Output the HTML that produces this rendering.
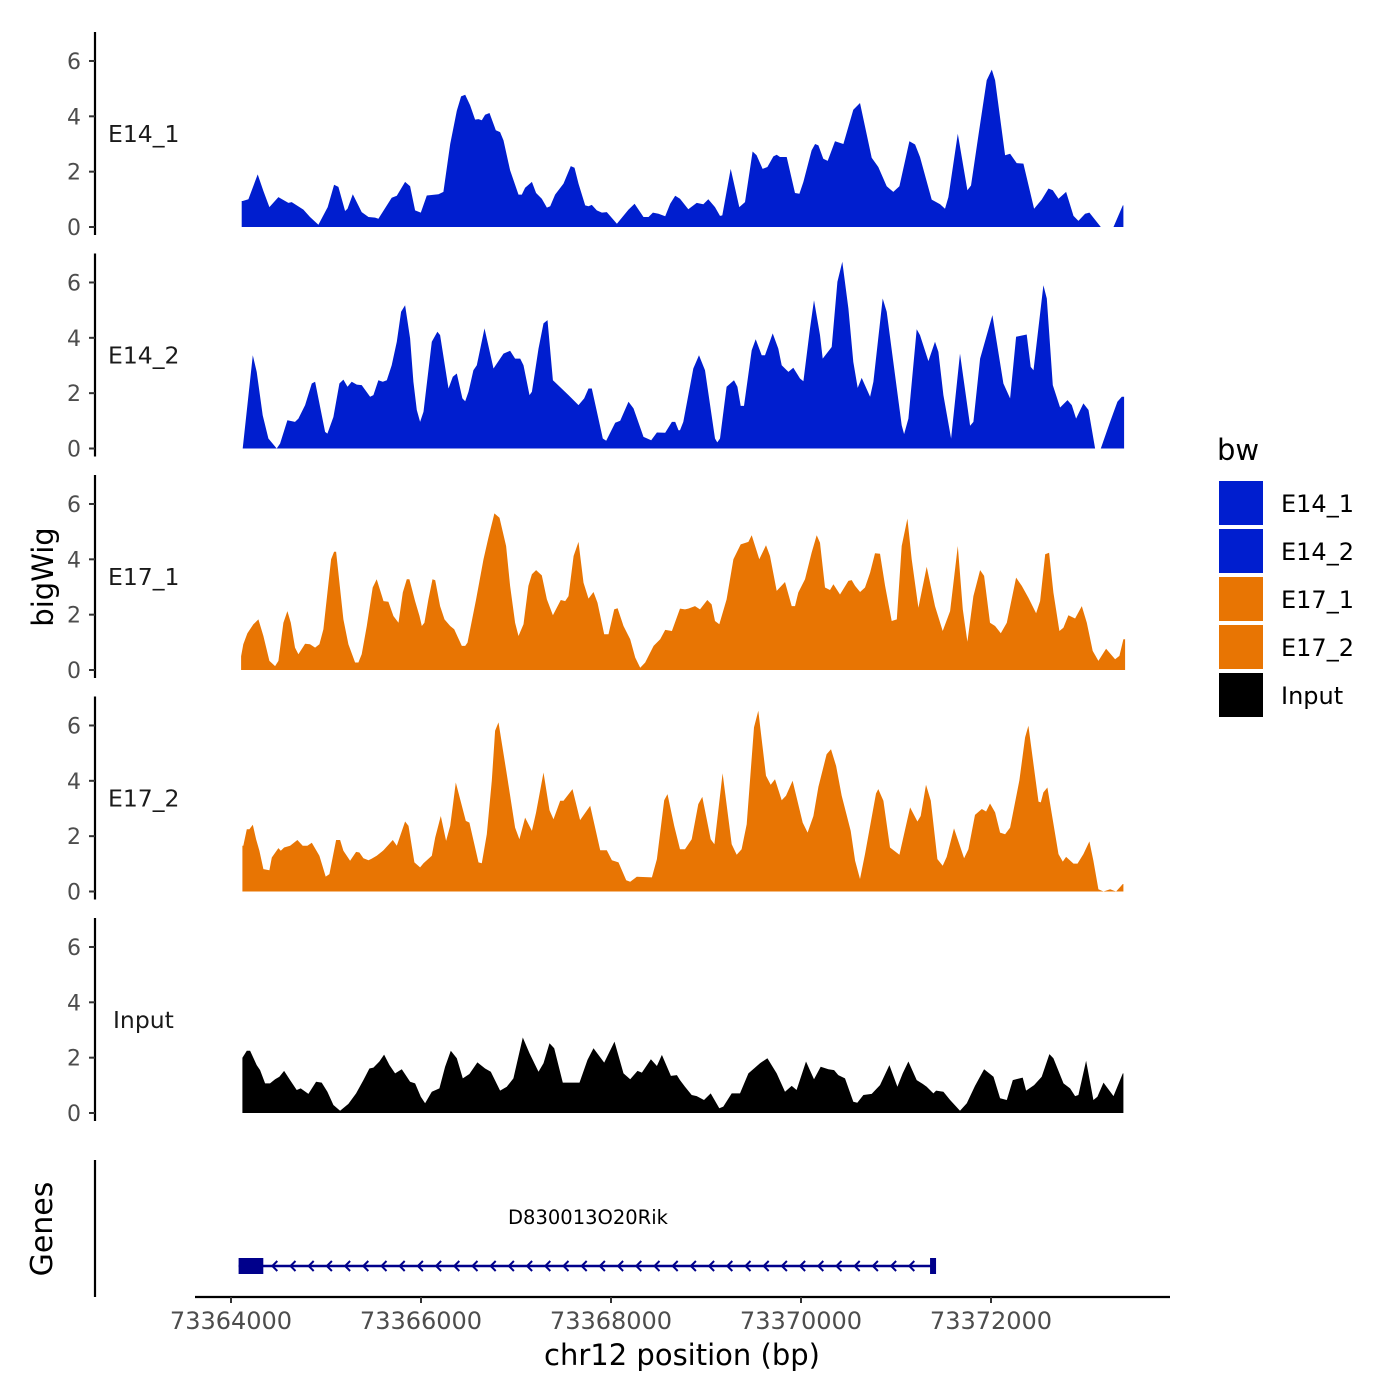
<!DOCTYPE html>
<html><head><meta charset="utf-8"><style>
html,body{margin:0;padding:0;background:#fff;}
svg{display:block;font-family:"DejaVu Sans","Liberation Sans",sans-serif;}
</style></head><body>
<svg id="chart" width="1400" height="1400" viewBox="0 0 1400 1400" xmlns="http://www.w3.org/2000/svg">
<rect width="1400" height="1400" fill="#fff"/>
<g id="panels"></g>
<g id="genes"></g>
<text x="0" y="0" transform="translate(53,577) rotate(-90)" font-size="29" text-anchor="middle">bigWig</text>
<text x="0" y="0" transform="translate(52,1229) rotate(-90)" font-size="30" text-anchor="middle">Genes</text>
<g id="xaxis"></g>
<text x="682" y="1365" font-size="29" text-anchor="middle">chr12 position (bp)</text>
<g id="legend">
<text x="1217" y="460" font-size="29">bw</text>
</g>
</svg>
<script>
const start = 73364000;
const samples = ["E14_1","E14_2","E17_1","E17_2","Input"];
const xTicks = [73364000,73366000,73368000,73370000,73372000];
const yTicks = [0,2,4,6];
const geneName = "D830013O20Rik";
const geneStart = 73364080;
const geneEnd = 73371390;
const exonEnd = 73364340;

const e14_1_pos = [113,123,183,281,341,404,499,604,639,762,832,920,1018,1085,1131,1201,1226,1282,1376,1447,1517,1552,1692,1745,1833,1885,1938,1998,2061,2184,2236,2307,2377,2422,2465,2517,2570,2605,2640,2675,2721,2787,2833,2868,2938,3026,3061,3096,3167,3212,3272,3325,3360,3412,3500,3577,3616,3658,3728,3763,3798,3851,3904,3956,4062,4184,4248,4342,4395,4441,4500,4571,4623,4676,4726,4814,4902,4972,5024,5095,5147,5172,5260,5351,5410,5491,5533,5596,5646,5709,5744,5779,5849,5937,5983,6025,6112,6148,6183,6235,6281,6358,6446,6551,6621,6744,6814,6902,6972,7036,7141,7201,7253,7376,7464,7516,7552,7650,7752,7790,7878,7955,8008,8043,8148,8201,8271,8341,8454,8534,8605,8650,8710,8791,8868,8920,8991,9036,9156,9289,9387,9394];
const e14_1_val = [0.94,0.94,1.0,1.9,1.3,.72,1.08,.87,.9,.63,.36,.08,.72,1.53,1.45,.58,.66,1.18,.54,.36,.34,.3,1.06,1.13,1.63,1.47,.6,.52,1.14,1.18,1.27,3.0,4.2,4.72,4.78,4.4,3.88,3.9,3.86,4.06,4.12,3.5,3.43,3.13,2.05,1.17,1.17,1.42,1.63,1.23,1.02,.7,.75,1.17,1.57,2.2,2.14,1.57,.78,.75,.8,.6,.52,.54,.12,.63,.84,.36,.36,.52,.48,.39,.84,1.13,1.02,.64,.87,.82,1.0,.72,.4,.42,2.1,.72,.9,2.73,2.59,2.1,2.17,2.55,2.61,2.53,2.53,1.23,1.2,1.63,2.77,3.0,2.95,2.47,2.39,3.1,3.0,4.24,4.48,2.5,2.17,1.47,1.27,1.47,3.1,2.98,2.53,.99,.82,.66,1.08,3.37,1.33,1.5,3.55,5.3,5.69,5.3,2.59,2.65,2.31,2.29,.66,.99,1.39,1.33,1.02,1.27,.4,.22,.48,.52,0,0,.78,.78];

const e14_2_pos = [123,229,271,334,394,481,517,594,674,710,780,850,885,990,1015,1078,1141,1183,1226,1271,1324,1376,1464,1499,1552,1598,1640,1692,1745,1791,1833,1885,1920,1956,1991,2026,2114,2173,2201,2289,2335,2377,2436,2465,2500,2552,2587,2668,2763,2868,2938,2991,3044,3079,3142,3167,3237,3289,3332,3388,3553,3658,3718,3763,3798,3914,3949,4044,4097,4184,4237,4342,4423,4483,4571,4641,4676,4711,4726,4761,4866,4926,4989,5095,5119,5147,5217,5295,5330,5365,5400,5481,5523,5586,5621,5702,5761,5797,5867,5919,5990,6025,6095,6137,6200,6228,6323,6383,6435,6499,6551,6597,6639,6727,6762,6860,6902,6972,7060,7085,7130,7218,7253,7341,7411,7446,7499,7580,7674,7780,7815,7885,8015,8131,8201,8264,8376,8418,8447,8552,8587,8650,8727,8805,8850,8896,8973,9026,9096,9156,9254,9331,9377,9401];
const e14_2_val = [0,3.37,2.77,1.2,.36,0,.18,1.02,.96,1.08,1.57,2.35,2.41,.6,.54,1.14,2.35,2.49,2.23,2.41,2.31,2.29,1.87,1.93,2.47,2.41,2.47,3.01,3.86,4.94,5.18,3.98,2.41,1.39,.96,1.33,3.86,4.22,4.1,2.17,2.59,2.71,1.81,1.71,2.05,2.83,3.01,4.34,2.89,3.43,3.53,3.25,3.25,3.01,1.93,2.05,3.61,4.52,4.64,2.47,1.93,1.57,1.81,2.17,2.17,.36,.28,.93,1.0,1.69,1.45,.42,.3,.58,.57,.96,.96,.66,.66,.96,2.89,3.37,2.83,.36,.22,.36,2.23,2.47,2.23,1.54,1.54,3.55,3.95,3.37,3.37,4.16,3.61,3.01,2.77,2.92,2.53,2.43,4.34,5.36,4.1,3.25,3.67,6.02,6.75,5.06,3.13,2.19,2.55,1.87,2.41,5.42,4.94,3.13,.84,.52,1.08,4.31,4.1,3.16,3.86,3.49,1.93,.36,3.43,.82,.96,3.25,4.82,2.35,1.81,4.04,4.12,2.95,2.83,5.9,5.42,2.29,1.48,1.75,1.57,1.08,1.63,1.39,0,0,.96,1.69,1.87,1.87];

const e17_1_pos = [106,130,173,236,288,341,404,464,499,552,594,629,674,710,780,832,885,931,973,1054,1085,1106,1183,1236,1306,1341,1376,1429,1492,1534,1605,1657,1710,1763,1808,1850,1878,1938,1984,2008,2036,2078,2121,2149,2201,2247,2307,2349,2429,2465,2489,2580,2658,2710,2773,2826,2896,2938,2991,3026,3079,3131,3167,3212,3272,3325,3388,3472,3518,3553,3606,3658,3711,3763,3816,3858,3928,3974,4034,4069,4132,4202,4255,4307,4360,4448,4518,4571,4641,4711,4726,4779,4814,4884,4937,5014,5059,5095,5140,5217,5288,5365,5446,5481,5561,5632,5674,5744,5832,5902,5937,5972,6042,6112,6165,6200,6253,6305,6341,6411,6499,6534,6569,6622,6674,6727,6779,6832,6885,6955,7008,7060,7120,7165,7236,7323,7411,7492,7569,7650,7703,7752,7815,7885,7927,7990,8043,8103,8166,8264,8324,8394,8475,8517,8570,8612,8657,8720,8762,8815,8885,8956,9008,9071,9131,9212,9306,9352,9394,9412];
const e17_1_val = [.5,.93,1.33,1.65,1.83,1.23,.33,.14,.33,1.71,2.13,1.71,.81,.57,.95,.93,.81,.93,1.47,4.0,4.27,4.27,1.83,.93,.27,.27,.57,1.59,2.98,3.28,2.49,2.47,1.95,1.71,2.8,3.28,3.28,2.49,1.95,1.59,1.71,2.55,3.28,3.24,2.31,1.83,1.59,1.47,.87,.87,.99,2.55,4.0,4.78,5.66,5.5,4.48,3.04,1.71,1.23,1.65,3.04,3.46,3.61,3.42,2.55,1.98,2.53,2.49,2.67,4.12,4.63,3.16,2.58,2.82,2.43,1.29,1.29,2.19,2.23,1.59,1.11,.45,.08,.27,.87,1.11,1.45,1.41,2.07,2.22,2.19,2.22,2.31,2.19,2.53,2.37,1.77,1.65,2.55,4.0,4.54,4.63,4.87,4.0,4.51,4.12,2.86,3.18,2.31,2.31,2.8,3.28,4.24,4.87,4.6,2.98,2.89,3.1,2.73,3.22,3.25,3.04,2.82,2.98,3.52,4.22,4.2,3.04,1.77,1.83,4.48,5.47,4.0,2.25,3.73,2.31,1.41,2.13,4.48,2.19,1.02,2.67,3.61,3.4,1.71,1.59,1.33,1.71,3.34,3.04,2.61,2.05,2.49,4.18,4.24,2.8,1.41,1.53,1.98,1.86,2.31,1.71,.69,.33,.77,.39,.51,1.11,1.11];

const e17_2_pos = [120,130,166,194,229,264,299,341,404,429,499,524,559,622,699,755,804,850,931,997,1036,1106,1148,1183,1254,1317,1352,1394,1447,1482,1534,1605,1703,1745,1833,1868,1931,1991,2026,2114,2149,2208,2264,2307,2366,2472,2510,2605,2640,2693,2745,2780,2816,2903,2991,3036,3096,3167,3212,3289,3353,3395,3465,3500,3595,3675,3781,3886,3956,4009,4079,4160,4202,4272,4430,4483,4560,4595,4665,4726,4779,4849,4919,4961,5049,5088,5175,5270,5323,5375,5428,5505,5551,5632,5681,5726,5797,5842,5912,6018,6070,6130,6183,6270,6316,6369,6428,6523,6569,6621,6674,6790,6814,6867,6937,7036,7148,7225,7260,7316,7366,7436,7492,7534,7611,7717,7762,7832,7903,7948,7990,8043,8096,8148,8201,8299,8359,8394,8447,8500,8524,8552,8594,8640,8710,8756,8791,8868,8910,8973,9036,9078,9131,9184,9254,9317,9387,9394];
const e17_2_val = [1.65,1.65,2.25,2.25,2.41,1.89,1.47,.81,.77,1.23,1.57,1.47,1.59,1.65,1.86,1.65,1.65,1.76,1.29,.54,.63,1.86,1.86,1.47,1.11,1.43,1.41,1.2,1.13,1.19,1.29,1.49,1.86,1.65,2.53,2.37,1.05,.87,1.02,1.29,1.95,2.73,1.83,2.37,3.94,2.55,2.49,1.05,1.02,2.07,4.0,5.81,6.11,4.24,2.31,1.89,2.67,2.19,2.86,4.3,2.94,2.61,3.28,3.28,3.7,2.58,3.1,1.49,1.49,1.13,1.05,.41,.35,.53,.51,1.17,3.3,3.52,2.37,1.53,1.53,1.89,3.16,3.42,1.89,1.71,4.27,1.71,1.33,1.53,2.43,5.93,6.53,4.18,3.86,4.06,3.3,3.46,4.0,2.49,2.13,2.73,3.78,4.96,5.14,4.54,3.46,2.19,1.11,.45,1.35,3.54,3.7,3.28,1.59,1.33,3.04,2.53,2.73,3.86,3.28,1.17,.93,1.25,2.28,1.2,1.53,2.77,2.98,2.89,3.18,2.86,2.13,2.07,2.31,4.02,5.57,5.99,4.6,3.25,3.22,3.58,3.76,2.8,1.35,1.08,1.25,1.01,1.01,1.35,1.81,1.11,.08,0,.08,0,.27,.27];

const input_pos = [120,166,201,271,306,359,411,464,509,559,622,692,734,815,896,955,1015,1078,1148,1236,1317,1394,1457,1499,1562,1612,1668,1727,1798,1885,1938,1998,2043,2114,2194,2254,2314,2377,2440,2510,2594,2675,2735,2833,2903,2973,3072,3142,3237,3289,3353,3402,3493,3668,3753,3816,3928,4037,4132,4202,4279,4325,4420,4483,4536,4630,4694,4726,4779,4849,4902,4979,5049,5140,5182,5270,5358,5446,5505,5568,5646,5744,5832,5902,5954,6053,6137,6207,6288,6348,6393,6463,6551,6593,6657,6744,6832,6930,7015,7071,7130,7218,7281,7323,7394,7422,7499,7569,7674,7745,7832,7927,8026,8096,8166,8229,8334,8369,8454,8534,8615,8657,8763,8833,8885,8920,9001,9078,9120,9184,9289,9387,9394];
const input_val = [2.0,2.25,2.25,1.73,1.55,1.07,1.07,1.22,1.31,1.52,1.19,.83,.89,.69,1.13,1.1,.77,.29,.08,.33,.71,1.19,1.61,1.64,1.86,2.11,1.73,1.43,1.58,1.13,1.07,.59,.35,.77,.89,1.67,2.25,1.98,1.25,1.41,1.83,1.61,1.49,.81,.95,1.25,2.73,2.16,1.49,1.8,2.52,2.34,1.1,1.1,1.92,2.34,1.82,2.58,1.43,1.22,1.52,1.46,1.94,1.7,2.1,1.34,1.37,1.19,.95,.65,.61,.47,.71,.17,.23,.71,.71,1.43,1.61,1.8,1.98,1.43,.77,.98,.83,1.86,1.22,1.67,1.58,1.55,1.37,1.25,.41,.37,.65,.69,1.01,1.73,.95,1.43,1.86,1.19,1.05,.95,.71,.81,.77,.47,.08,.35,.98,1.58,1.31,.53,.47,1.19,1.28,.81,1.01,1.31,2.13,1.98,1.07,.89,.61,.65,1.89,.47,.59,1.1,.61,1.43,1.43];

const NS = "http://www.w3.org/2000/svg";
function el(tag, attrs, parent){ const e=document.createElementNS(NS,tag); for(const k in attrs) e.setAttribute(k,attrs[k]); parent.appendChild(e); return e; }
const xScale = bp => 231 + (bp - start) * 0.095;
const bases = [227, 448.5, 670, 891.5, 1113];
const unit = 27.67;
const colors = ["#001ecf","#001ecf","#e87503","#e87503","#000000"];
const posArr = [e14_1_pos, e14_2_pos, e17_1_pos, e17_2_pos, input_pos];
const valArr = [e14_1_val, e14_2_val, e17_1_val, e17_2_val, input_val];
const panelsG = document.getElementById('panels');

samples.forEach((s, i) => {
  const base = bases[i];
  const yScale = v => base - v * unit;
  const g = el('g', {}, panelsG);
  
  
  const axis = el('line', {x1:95, x2:95, y1:base-195, y2:base+8, stroke:'#000', 'stroke-width':2.2}, g);
  
  
  yTicks.forEach(t => {
    const tk = el('line', {x1:89, x2:95, y1:yScale(t), y2:yScale(t), stroke:'#333', 'stroke-width':2}, g);
    
    
    const tl = el('text', {x:81, y:yScale(t)+8, 'font-size':22, fill:'#4d4d4d', 'text-anchor':'end'}, g);
    tl.textContent = t;
    
    
  });
  const pos = posArr[i], val = valArr[i];
  const n = Math.min(pos.length, val.length);
  let d = 'M' + xScale(start + pos[0]).toFixed(1) + ',' + base;
  for (let j = 0; j < n; j++) d += 'L' + xScale(start + pos[j]).toFixed(1) + ',' + yScale(val[j]).toFixed(1);
  d += 'L' + xScale(start + pos[n-1]).toFixed(1) + ',' + base + 'Z';
  const area = el('path', {d:d, fill:colors[i]}, g);
  
  
  const lab = el('text', {x: s === 'Input' ? 113 : 108, y: base - 85, 'font-size':23.5, fill:'#1a1a1a'}, g);
  lab.textContent = s;
  
  
});

// genes track
const gg = document.getElementById('genes');
const gAxis = el('line', {x1:95, x2:95, y1:1160, y2:1297, stroke:'#000', 'stroke-width':2.2}, gg);


const gy = 1266;
const gLine = el('line', {x1:xScale(geneStart), x2:xScale(geneEnd), y1:gy, y2:gy, stroke:'#00008b', 'stroke-width':2.5}, gg);


for (let x = xScale(exonEnd) + 10; x < xScale(geneEnd) - 10; x += 18.2) {
  const ar = el('path', {d:`M${x+4},${gy-5}L${x-1},${gy}L${x+4},${gy+5}`, fill:'none', stroke:'#00008b', 'stroke-width':2}, gg);
  
  
}
const ex = el('rect', {x:xScale(geneStart), y:gy-8, width:xScale(exonEnd)-xScale(geneStart), height:16, fill:'#00008b'}, gg);


const ex2 = el('rect', {x:xScale(geneEnd)-3, y:gy-8, width:6, height:16, fill:'#00008b'}, gg);


const gl = el('text', {x:588, y:1224, 'font-size':19.5, 'text-anchor':'middle', fill:'#000'}, gg);
gl.textContent = geneName;



// x axis
const xa = document.getElementById('xaxis');
const xl = el('line', {x1:195, x2:1170, y1:1297, y2:1297, stroke:'#000', 'stroke-width':2.2}, xa);


xTicks.forEach(t => {
  const x = xScale(t);
  const tk = el('line', {x1:x, x2:x, y1:1297, y2:1303, stroke:'#333', 'stroke-width':2}, xa);
  
  
  const tl = el('text', {x:x, y:1329, 'font-size':24, fill:'#4d4d4d', 'text-anchor':'middle'}, xa);
  tl.textContent = t;
  
  
});

// legend
const lg = document.getElementById('legend');
samples.forEach((s, i) => {
  const cy = 503 + i * 48;
  const r = el('rect', {x:1219, y:cy-22, width:44, height:44, fill:colors[i]}, lg);
  
  
  const t = el('text', {x:1281, y:cy+9, 'font-size':24, fill:'#000'}, lg);
  t.textContent = s;
  
  
});
</script>
</body></html>
